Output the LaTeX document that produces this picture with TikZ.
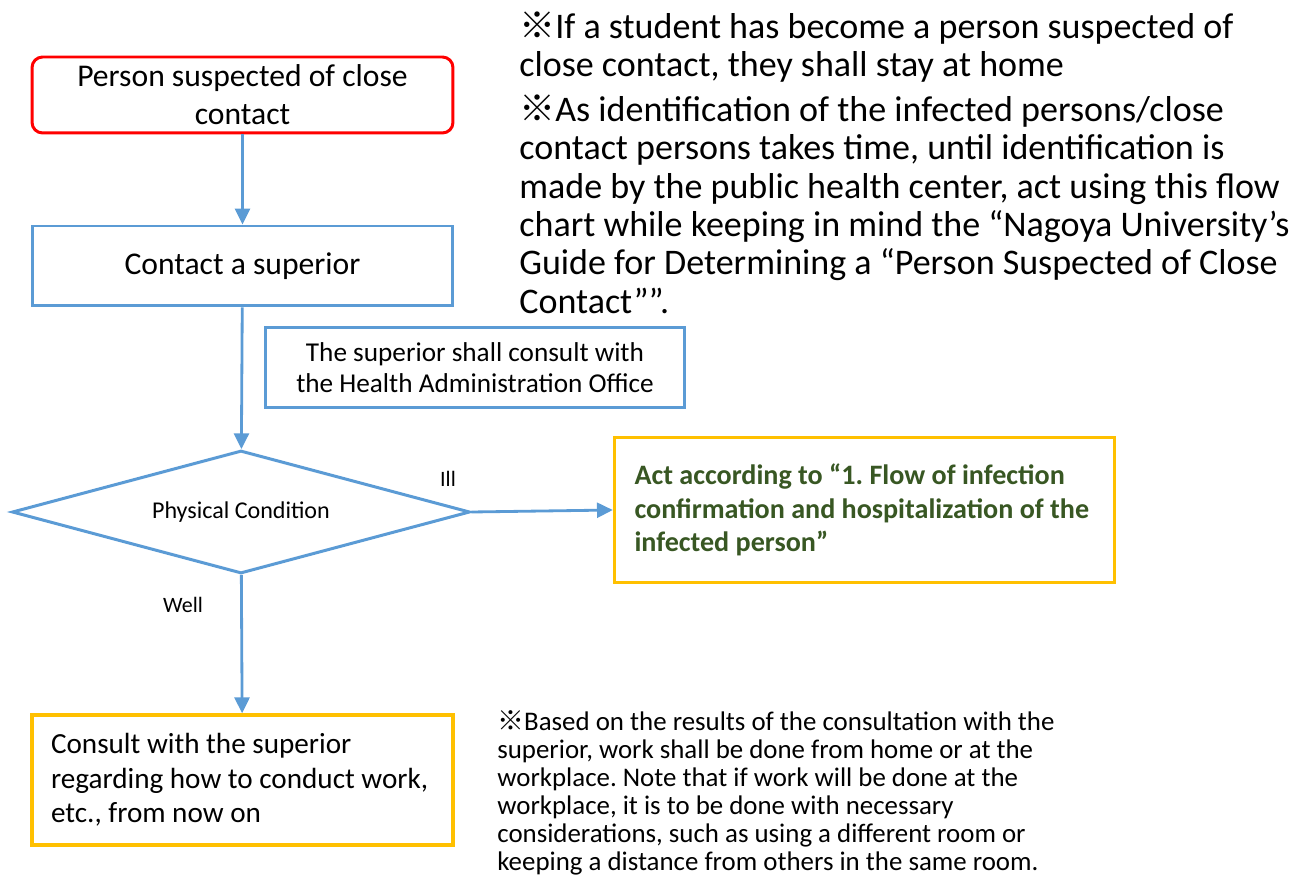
\documentclass[tikz,border=0pt]{standalone}
\usepackage{fontspec}
\setmainfont{Carlito}
\newfontfamily\cjk{Noto Sans CJK JP}
\usetikzlibrary{shapes.geometric, arrows.meta, positioning}
\definecolor{blu}{HTML}{5B9BD5}
\definecolor{rosso}{HTML}{FF0000}
\definecolor{giallo}{HTML}{FFC000}
\definecolor{verde}{HTML}{385723}
\newcommand{\kome}{{\cjk ※}}
\frenchspacing

\begin{document}
\begin{tikzpicture}[
  x=0.02cm, y=-0.02cm,
  rossobox/.style={draw=rosso, fill=white, line width=1.7pt, rounded corners=6pt,
                   align=center, inner sep=2pt},
  blubox/.style={draw=blu, fill=white, line width=1.7pt, align=center, inner sep=2pt},
  giallobox/.style={draw=giallo, fill=white, line width=2pt, align=left,
                    inner xsep=0.4cm, inner ysep=2pt,
                    execute at begin node={\spaceskip=0pt\relax}},
  cond/.style={diamond, draw=blu, fill=white, line width=1.7pt, inner sep=0pt,
               aspect=3.72, font=\fontsize{13.7}{16}\selectfont},
  nota/.style={align=left, inner sep=0pt, anchor=north west},
  etich/.style={font=\fontsize{12.5}{14}\selectfont, inner sep=1pt},
  freccia/.style={draw=blu, line width=1.6pt, -{Triangle[length=9pt,width=8.5pt]}}
]
\useasboundingbox (0,0) rectangle (1305,878);

%--------------------------------------------------------------
% Colonna principale
%--------------------------------------------------------------
\node[rossobox, minimum width=8.42cm, minimum height=1.52cm,
      font=\fontsize{18}{21.5}\selectfont] (sospetto) at (242.5,95)
  {Person suspected of close\\ contact};
\node[blubox, minimum width=8.42cm, minimum height=1.6cm,
      font=\fontsize{18}{21.5}\selectfont] (superiore) at (242.5,266)
  {Contact a superior};
\node[blubox, minimum width=8.4cm, minimum height=1.62cm,
      font=\fontsize{15.5}{17.6}\selectfont] (consulto) at (475,367.5)
  {The superior shall consult with\\ the Health Administration Office};
\node[cond, minimum width=9.16cm, minimum height=2.46cm] (stato) at (241,512)
  {Physical Condition};

%--------------------------------------------------------------
% Esiti: malato / sano
%--------------------------------------------------------------
\node[giallobox, text width=9.2cm, minimum height=2.9cm,
      font=\fontsize{16}{19}\selectfont\bfseries\color{verde}] (malato) at (864.5,510)
  {Act according to “1. Flow of infection\\ confirmation and hospitalization of the\\ infected person”};
\node[giallobox, inner xsep=0.38cm, text width=7.66cm, minimum height=2.6cm,
      font=\fontsize{16.6}{19.6}\selectfont] (lavoro) at (242.5,780)
  {Consult with the superior\\ regarding how to conduct work,\\ etc., from now on};

%--------------------------------------------------------------
% Frecce
%--------------------------------------------------------------
\draw[freccia] (sospetto) -- (superiore);
\draw[freccia] (superiore) -- (stato);
\draw[freccia] (stato.east) -- (malato.west);
\draw[freccia] (stato) -- (lavoro);

\node[etich] (ill) at (448,479) {Ill};
\node[etich] (well) at (183,605) {Well};

%--------------------------------------------------------------
% Note
%--------------------------------------------------------------
\node[nota, font=\fontsize{20.5}{21.8}\selectfont] (notasu) at (519,11)
  {\kome If a student has become a person suspected of\\
   close contact, they shall stay at home\\[4pt]
   \kome As identification of the infected persons/close\\
   contact persons takes time, until identification is\\
   made by the public health center, act using this flow\\
   chart while keeping in mind the “Nagoya University’s\\
   Guide for Determining a “Person Suspected of Close\\
   Contact””.};
\node[nota, font=\fontsize{15.3}{16}\selectfont] (notagiu) at (497,710)
  {\kome Based on the results of the consultation with the\\
   superior, work shall be done from home or at the\\
   workplace. Note that if work will be done at the\\
   workplace, it is to be done with necessary\\
   considerations, such as using a different room or\\
   keeping a distance from others in the same room.};

\end{tikzpicture}
\end{document}
